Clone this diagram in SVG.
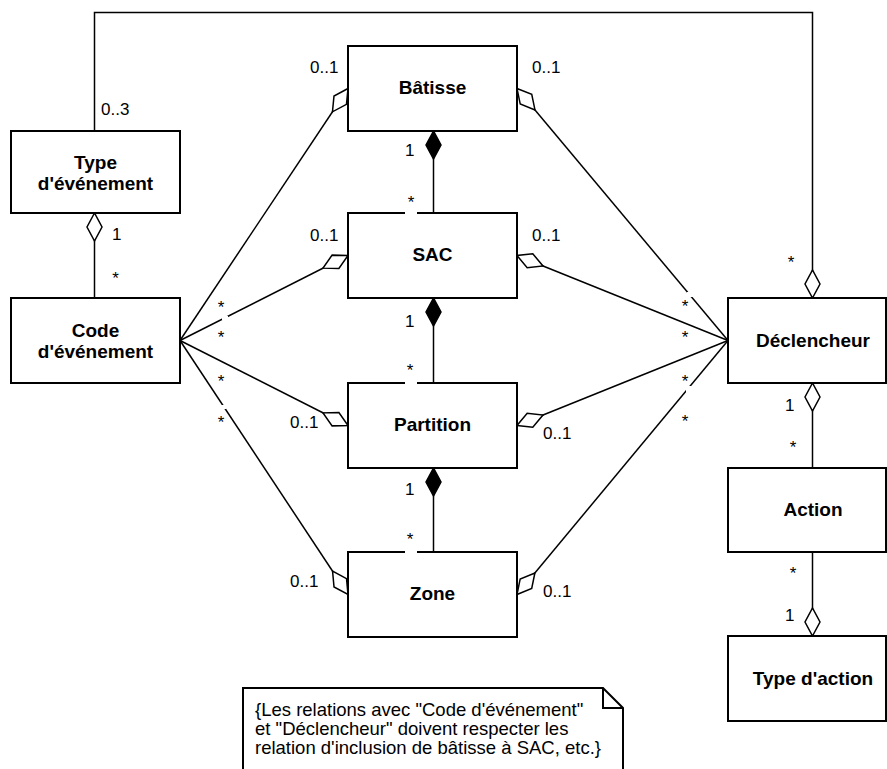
<svg xmlns="http://www.w3.org/2000/svg" width="887" height="769" viewBox="0 0 887 769">
  <defs>
    <style>
      .box { fill: #ffffff; stroke: #000000; stroke-width: 2; }
      .conn { fill: none; stroke: #000000; stroke-width: 1.5; }
      .name { font-family: "Liberation Sans", Arial, sans-serif; font-size: 19px; font-weight: bold; text-anchor: middle; fill: #000000; }
      .mult { font-family: "Liberation Sans", Arial, sans-serif; font-size: 17px; fill: #000000; }
      .star { font-family: "Liberation Sans", Arial, sans-serif; font-size: 17px; text-anchor: middle; fill: #000000; }
      .note { font-family: "Liberation Sans", Arial, sans-serif; font-size: 18.5px; fill: #000000; }
      .gap { fill: #ffffff; stroke: none; }
    </style>
    <marker id="agg" markerUnits="userSpaceOnUse" markerWidth="30" markerHeight="18" viewBox="-29 -9 30 18" refX="0" refY="0" orient="auto">
      <path d="M0,0 L-14,-7.5 L-28,0 L-14,7.5 Z" fill="#ffffff" stroke="#000000" stroke-width="1.5"/>
    </marker>
    <marker id="comp" markerUnits="userSpaceOnUse" markerWidth="30" markerHeight="18" viewBox="-29 -9 30 18" refX="0" refY="0" orient="auto">
      <path d="M0,0 L-14,-7.5 L-28,0 L-14,7.5 Z" fill="#000000" stroke="#000000" stroke-width="1.5"/>
    </marker>
  </defs>
  <rect width="887" height="769" fill="#ffffff"/>

  <g id="connectors">
    <path class="conn" d="M94.5,131 V12.5 H812.5 V298" marker-end="url(#agg)"/>
    <path class="conn" d="M94.5,298 V213" marker-end="url(#agg)"/>
    <path class="conn" d="M180,340.5 L348,88.5" marker-end="url(#agg)"/>
    <path class="conn" d="M180,340.5 L348,255.5" marker-end="url(#agg)"/>
    <path class="conn" d="M180,340.5 L348,425.5" marker-end="url(#agg)"/>
    <path class="conn" d="M180,340.5 L348,594.5" marker-end="url(#agg)"/>
    <path class="conn" d="M728,340.5 L517,88.5" marker-end="url(#agg)"/>
    <path class="conn" d="M728,340.5 L517,255.5" marker-end="url(#agg)"/>
    <path class="conn" d="M728,340.5 L517,425.5" marker-end="url(#agg)"/>
    <path class="conn" d="M728,340.5 L517,594.5" marker-end="url(#agg)"/>
    <path class="conn" d="M433.5,213 V131" marker-end="url(#comp)"/>
    <path class="conn" d="M433.5,383 V298" marker-end="url(#comp)"/>
    <path class="conn" d="M433.5,552 V468" marker-end="url(#comp)"/>
    <path class="conn" d="M812.5,468 V383" marker-end="url(#agg)"/>
    <path class="conn" d="M812.5,552 V636" marker-end="url(#agg)"/>
  </g>

  <g id="type-evenement">
    <rect class="box" x="11" y="131" width="169" height="82"/>
    <text class="name" x="95.5" y="169">Type</text>
    <text class="name" x="95.5" y="190">d'événement</text>
  </g>
  <g id="code-evenement">
    <rect class="box" x="11" y="298" width="169" height="85"/>
    <text class="name" x="95.5" y="337">Code</text>
    <text class="name" x="95.5" y="358">d'événement</text>
  </g>
  <g id="batisse">
    <rect class="box" x="348" y="46" width="169" height="85"/>
    <text class="name" x="432.5" y="94">Bâtisse</text>
  </g>
  <g id="sac">
    <rect class="box" x="348" y="213" width="169" height="85"/>
    <text class="name" x="432.5" y="261">SAC</text>
  </g>
  <g id="partition">
    <rect class="box" x="348" y="383" width="169" height="85"/>
    <text class="name" x="432.5" y="431">Partition</text>
  </g>
  <g id="zone">
    <rect class="box" x="348" y="552" width="169" height="85"/>
    <text class="name" x="432.5" y="600">Zone</text>
  </g>
  <g id="declencheur">
    <rect class="box" x="728" y="298" width="158" height="85"/>
    <text class="name" x="813" y="347">Déclencheur</text>
  </g>
  <g id="action">
    <rect class="box" x="728" y="468" width="158" height="84"/>
    <text class="name" x="813" y="516">Action</text>
  </g>
  <g id="type-action">
    <rect class="box" x="728" y="636" width="158" height="85"/>
    <text class="name" x="813" y="685">Type d'action</text>
  </g>

  <g id="label-gaps">
    <rect class="gap" x="222" y="316" width="6" height="4"/>
    <rect class="gap" x="220" y="405" width="6" height="4"/>
    <rect class="gap" x="687" y="292" width="6" height="5"/>
    <rect class="gap" x="686" y="386" width="6" height="7"/>
    <rect class="gap" x="405" y="211" width="12" height="3"/>
    <rect class="gap" x="405" y="381" width="12" height="3"/>
    <rect class="gap" x="405" y="550" width="12" height="3"/>
  </g>

  <g id="labels">
    <text class="mult" x="101" y="115">0..3</text>
    <text class="mult" x="112" y="240">1</text>
    <text class="star" x="115.5" y="284">*</text>

    <text class="mult" x="310" y="73">0..1</text>
    <text class="mult" x="532" y="73">0..1</text>
    <text class="mult" x="310" y="241">0..1</text>
    <text class="mult" x="532" y="241">0..1</text>
    <text class="mult" x="290" y="428">0..1</text>
    <text class="mult" x="543" y="439">0..1</text>
    <text class="mult" x="290" y="587">0..1</text>
    <text class="mult" x="543" y="597">0..1</text>

    <text class="mult" x="405" y="156">1</text>
    <text class="mult" x="405" y="327">1</text>
    <text class="mult" x="405" y="495">1</text>
    <text class="star" x="411" y="208">*</text>
    <text class="star" x="410" y="376">*</text>
    <text class="star" x="410" y="545">*</text>

    <text class="star" x="221" y="313">*</text>
    <text class="star" x="221" y="343">*</text>
    <text class="star" x="221" y="387">*</text>
    <text class="star" x="221" y="428">*</text>

    <text class="star" x="685" y="312">*</text>
    <text class="star" x="685" y="343">*</text>
    <text class="star" x="685" y="387">*</text>
    <text class="star" x="685" y="427">*</text>

    <text class="star" x="791" y="268">*</text>
    <text class="mult" x="785" y="411">1</text>
    <text class="star" x="793" y="453">*</text>
    <text class="star" x="793" y="579">*</text>
    <text class="mult" x="785" y="621">1</text>
  </g>

  <g id="note">
    <path class="conn" style="stroke-width:2" d="M243,775 V688 H603 L623,708 V775"/>
    <path class="conn" style="stroke-width:2" d="M603,688 V708 H623"/>
    <text class="note" x="255" y="716">{Les relations avec "Code d'événement"</text>
    <text class="note" x="255" y="735">et "Déclencheur" doivent respecter les</text>
    <text class="note" x="255" y="754">relation d'inclusion de bâtisse à SAC, etc.}</text>
  </g>
</svg>
